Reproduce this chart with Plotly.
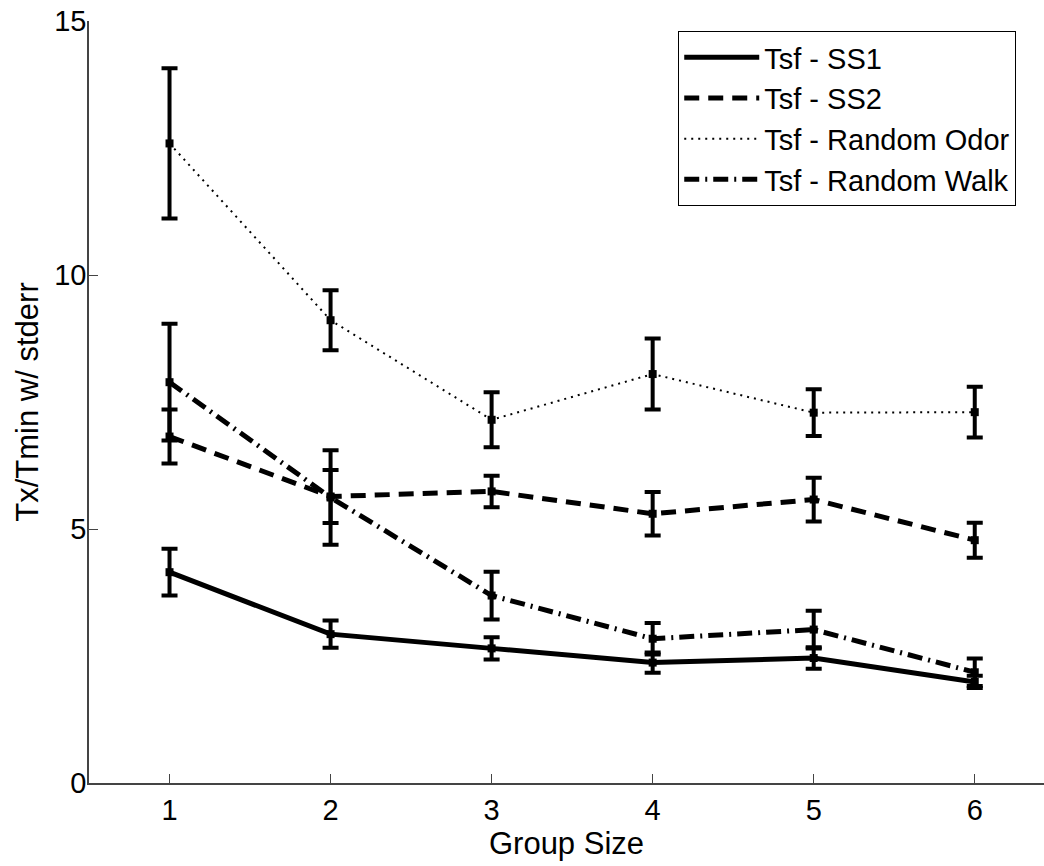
import plotly.graph_objects as go

group_size = [1, 2, 3, 4, 5, 6]
ss1 = [4.15, 2.93, 2.65, 2.37, 2.46, 1.99]
ss1_err = [0.46, 0.27, 0.22, 0.20, 0.21, 0.12]
ss2 = [6.82, 5.64, 5.74, 5.30, 5.58, 4.78]
ss2_err = [0.53, 0.52, 0.31, 0.43, 0.43, 0.345]
ro = [12.59, 9.11, 7.15, 8.05, 7.29, 7.30]
ro_err = [1.48, 0.59, 0.54, 0.70, 0.46, 0.50]
rw = [7.89, 5.62, 3.69, 2.84, 3.02, 2.18]
rw_err = [1.15, 0.93, 0.47, 0.31, 0.37, 0.27]

names = ["Tsf - SS1", "Tsf - SS2", "Tsf - Random Odor", "Tsf - Random Walk"]
FONT = "Liberation Sans, Arial, Helvetica, sans-serif"

series = [
    (names[0], ss1, ss1_err, dict(color="black", width=5, dash="solid")),
    (names[1], ss2, ss2_err, dict(color="black", width=5, dash="15px,9px")),
    (names[2], ro, ro_err, dict(color="black", width=2, dash="2px,5px")),
    (names[3], rw, rw_err, dict(color="black", width=5, dash="15px,6px,2px,6px")),
]

fig = go.Figure()
for name, y, err, line in series:
    fig.add_trace(go.Scatter(
        x=group_size, y=y, name=name, mode="lines",
        line=line,
        error_y=dict(type="data", array=err, visible=True, color="black",
                     thickness=4, width=8),
    ))
for name, y, err, line in series:
    fig.add_trace(go.Scatter(
        x=group_size, y=y, name=name, mode="markers", showlegend=False,
        marker=dict(symbol="square", size=8, color="black"),
    ))

fig.update_layout(
    width=1044, height=866,
    margin=dict(l=89, r=0, t=21, b=83, autoexpand=False),
    paper_bgcolor="white", plot_bgcolor="white",
    font=dict(family=FONT, size=30, color="black"),
    showlegend=True,
    legend=dict(x=0.617, y=0.987, xanchor="left", yanchor="top",
                bgcolor="white", bordercolor="black", borderwidth=1,
                font=dict(family=FONT, size=29, color="black"),
                tracegroupgap=0, itemwidth=75),
)
fig.update_xaxes(
    range=[0.5, 6.43], tickvals=group_size, ticktext=[str(v) for v in group_size],
    showline=True, linecolor="#444", linewidth=1.5, mirror=False,
    ticks="inside", ticklen=9, tickcolor="#444", tickwidth=1,
    showgrid=False, zeroline=False, automargin=False,
    ticklabeloverflow="allow",
    title=dict(text="Group Size", font=dict(family=FONT, size=31), standoff=2),
    tickfont=dict(family=FONT, size=29),
)
fig.update_yaxes(
    range=[0, 15], tickvals=[0, 5, 10, 15],
    showline=True, linecolor="#444", linewidth=1.5, mirror=False,
    ticks="inside", ticklen=9, tickcolor="#444", tickwidth=1,
    showgrid=False, zeroline=False, automargin=False,
    ticklabelstandoff=-5, ticklabeloverflow="allow",
    title=dict(text="Tx/Tmin w/ stderr", font=dict(family=FONT, size=31), standoff=6),
    tickfont=dict(family=FONT, size=29),
)

# remove the browser's default 8px body margin so the figure fills the window
fig.write_html("out.html", config={"displayModeBar": False},
               post_script="document.body.style.margin='0';")
